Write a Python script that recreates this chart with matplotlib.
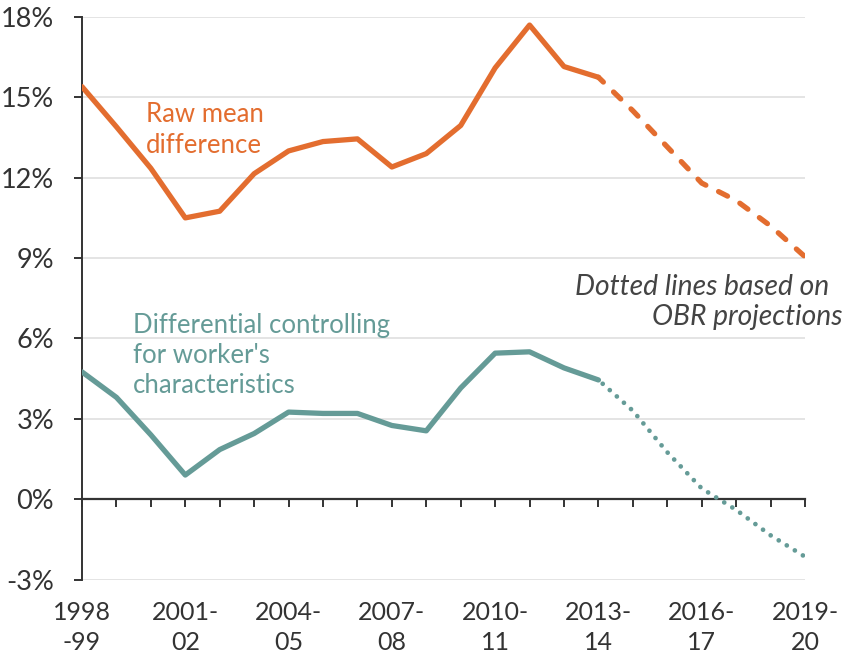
import matplotlib
matplotlib.use('Agg')
import matplotlib.pyplot as plt

plt.rcParams['font.family'] = ['Lato', 'DejaVu Sans']

# financial years 1998-99 .. 2019-20
years = ['1998-99', '1999-00', '2000-01', '2001-02', '2002-03', '2003-04', '2004-05',
         '2005-06', '2006-07', '2007-08', '2008-09', '2009-10', '2010-11', '2011-12',
         '2012-13', '2013-14', '2014-15', '2015-16', '2016-17', '2017-18', '2018-19',
         '2019-20']
raw_gap = [15.4, 13.9, 12.35, 10.5, 10.75, 12.15, 13.0, 13.35, 13.45, 12.4, 12.9, 13.95,
           16.1, 17.7, 16.15, 15.75, 14.5, 13.15, 11.8, 11.15, 10.2, 9.05]
controlled_gap = [4.75, 3.8, 2.4, 0.9, 1.85, 2.45, 3.25, 3.2, 3.2, 2.75, 2.55, 4.15,
                  5.45, 5.5, 4.9, 4.45, 3.3, 1.75, 0.4, -0.4, -1.35, -2.15]
last_actual = 15  # 2013-14, after that OBR projections

xtick_pos = [0, 3, 6, 9, 12, 15, 18, 21]
xtick_labels = [('1998', '-99'), ('2001-', '02'), ('2004-', '05'), ('2007-', '08'),
                ('2010-', '11'), ('2013-', '14'), ('2016-', '17'), ('2019-', '20')]
ytick_vals = [-3, 0, 3, 6, 9, 12, 15, 18]
ytick_labels = ['-3%', '0%', '3%', '6%', '9%', '12%', '15%', '18%']

orange = '#E36D2F'
teal = '#659B97'
dark = '#333333'

W, H = 849, 657
fig = plt.figure(figsize=(W/100, H/100), dpi=100)
ax = fig.add_axes([82/W, 1-579.5/H, (805-82)/W, (579.5-17)/H])

x = list(range(len(years)))
n = last_actual + 1

ax.plot(x[:n], raw_gap[:n], color=orange, lw=3.8, solid_capstyle='round', solid_joinstyle='round', zorder=3)
ax.plot(x[last_actual:], raw_gap[last_actual:], color=orange, lw=3.8,
        linestyle=(0.6, (1.9, 2.7)), dash_capstyle='round', zorder=3)
ax.plot(x[:n], controlled_gap[:n], color=teal, lw=3.8, solid_capstyle='round', solid_joinstyle='round', zorder=3)
ax.plot(x[last_actual:], controlled_gap[last_actual:], color=teal, lw=3.4,
        linestyle=(0.8, (0.01, 2.0)), dash_capstyle='round', zorder=3)

ax.set_xlim(0, len(years) - 1)
ax.set_ylim(-3, 18)
ax.set_yticks(ytick_vals)
ax.set_yticklabels(ytick_labels)
ax.yaxis.grid(True, color='#dcdcdc', lw=1.1)
ax.set_axisbelow(True)

for s in ['top', 'right']:
    ax.spines[s].set_visible(False)
ax.spines['left'].set_color(dark)
ax.spines['left'].set_linewidth(1.4)
ax.spines['bottom'].set_position(('data', 0))
ax.spines['bottom'].set_color(dark)
ax.spines['bottom'].set_linewidth(1.6)

ax.set_xticks(x)
ax.set_xticklabels([''] * len(x))
ax.tick_params(axis='x', direction='out', length=6, width=1.4, color=dark)
ax.tick_params(axis='y', direction='out', length=6, width=1.4, color=dark,
               labelsize=19.5, labelcolor=dark, pad=14)

# x labels in two lines, baselines 620 / 650 px
for pos, (l1, l2) in zip(xtick_pos, xtick_labels):
    for txt, yb in [(l1, 620), (l2, 650)]:
        ax.annotate(txt, xy=(pos, 0), xycoords=('data', 'figure fraction'),
                    xytext=(pos, 1-yb/H), textcoords=('data', 'figure fraction'),
                    ha='center', va='baseline', fontsize=18, color=dark,
                    annotation_clip=False)

def fig_text(xp, yb, s, **kw):
    fig.text(xp/W, 1-yb/H, s, va='baseline', **kw)

fig_text(146, 122, 'Raw mean', fontsize=18.5, color=orange, ha='left')
fig_text(146, 153, 'difference', fontsize=18.5, color=orange, ha='left')
fig_text(133, 333, 'Differential controlling', fontsize=18.5, color=teal, ha='left')
fig_text(133, 363, "for worker's", fontsize=18.5, color=teal, ha='left')
fig_text(133, 393, 'characteristics', fontsize=18.5, color=teal, ha='left')
fig_text(829, 295, 'Dotted lines based on', fontsize=20.3, color='#444444',
         style='italic', ha='right')
fig_text(842, 325, 'OBR projections', fontsize=20.3, color='#444444',
         style='italic', ha='right')

fig.savefig('out.png', dpi=100)
